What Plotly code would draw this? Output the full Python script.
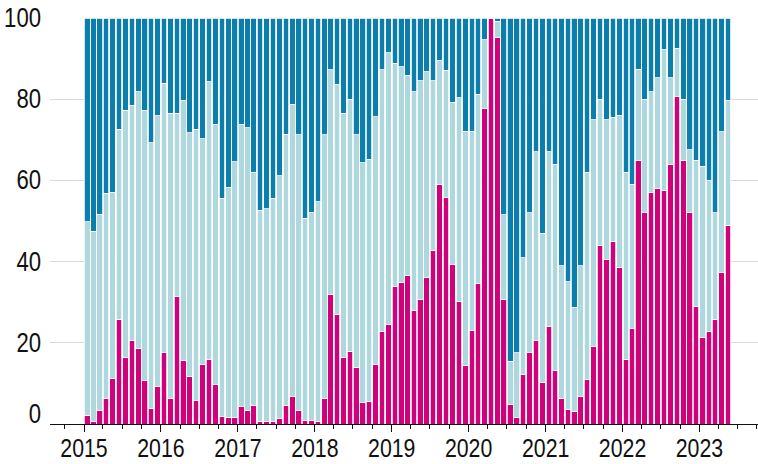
import pandas as pd
import plotly.graph_objects as go

# Monthly shares (percent), Jan 2015 - May 2023
months = pd.date_range("2015-01-01", periods=101, freq="MS")

bottom_share = [
    2.1, 0.7, 3.4, 6.2, 11.1, 25.7, 16.5, 20.6, 18.5, 10.7, 3.7, 9.3,
    17.5, 6.3, 31.3, 15.7, 11.7, 5.8, 14.6, 16.0, 9.7, 1.9, 1.6, 1.6,
    4.4, 3.4, 4.6, 0.7, 0.7, 0.7, 1.4, 4.6, 6.7, 3.4, 0.9, 0.9,
    0.7, 6.4, 32.0, 27.0, 16.3, 17.9, 13.8, 5.2, 5.5, 14.6, 22.8, 24.6,
    33.8, 34.8, 36.5, 27.9, 30.6, 36.2, 42.8, 59.1, 55.9, 39.2, 30.1, 14.4,
    23.0, 34.5, 77.7, 100.0, 95.3, 30.6, 4.9, 1.7, 12.1, 17.6, 20.5, 10.1,
    24.0, 13.1, 6.2, 3.5, 3.1, 6.7, 10.9, 19.0, 44.0, 40.5, 45.0, 38.5,
    15.8, 23.6, 65.0, 52.0, 57.0, 58.0, 57.6, 64.0, 80.6, 65.0, 52.0, 28.9,
    21.3, 22.8, 25.8, 37.4, 48.8,
]

# Cumulative share of the bottom and middle groups
middle_top = [
    49.8, 47.5, 51.7, 56.8, 57.1, 72.6, 77.3, 78.5, 81.8, 77.3, 69.3, 75.9,
    83.9, 76.5, 76.5, 79.8, 71.7, 72.6, 70.2, 84.3, 73.8, 55.6, 58.3, 64.6,
    73.8, 73.0, 62.0, 52.7, 53.0, 55.6, 61.1, 71.4, 78.8, 71.2, 50.7, 52.2,
    54.8, 71.2, 87.3, 83.7, 76.5, 80.0, 71.2, 64.4, 65.2, 75.7, 87.2, 91.4,
    88.8, 88.0, 85.9, 81.8, 84.5, 86.8, 84.5, 89.6, 87.1, 79.2, 80.3, 72.1,
    72.1, 81.2, 94.7, 100.0, 99.2, 51.5, 15.4, 17.5, 41.0, 52.0, 67.0, 47.0,
    67.0, 64.0, 39.0, 35.0, 28.8, 39.0, 62.0, 75.0, 80.0, 75.0, 75.5, 76.0,
    62.0, 59.0, 87.4, 80.0, 81.8, 85.3, 92.2, 85.3, 92.5, 80.0, 67.5, 65.0,
    63.5, 60.0, 52.0, 72.0, 79.8,
]

middle_share = [t - b for t, b in zip(middle_top, bottom_share)]
top_share = [100 - t for t in middle_top]

y_ticks = [0, 20, 40, 60, 80, 100]

MAGENTA = "#d1007b"
LIGHT = "#aed8de"
DARK = "#0a7fad"
INK = "#111111"
FONT = "Liberation Sans Narrow, Arial Narrow, Liberation Sans, Arial, sans-serif"
LABEL_SIZE = 26

# Bars centred on mid-month so each one fills its own month slot
next_month = months + pd.offsets.MonthBegin(1)
centers = months + (next_month - months) / 2
bar_width = 26.5 * 24 * 3600 * 1000  # ms

fig = go.Figure()
for vals, color in [(bottom_share, MAGENTA), (middle_share, LIGHT), (top_share, DARK)]:
    fig.add_trace(go.Bar(
        x=centers, y=vals, width=bar_width,
        marker=dict(color=color, line=dict(color="white", width=0.8)),
        hoverinfo="skip",
    ))

fig.update_layout(
    barmode="stack",
    width=758, height=464,
    margin=dict(l=50, r=0, t=18, b=40),
    paper_bgcolor="white", plot_bgcolor="white",
    showlegend=False,
    font=dict(family=FONT, size=LABEL_SIZE, color=INK),
)

fig.update_xaxes(
    type="date", automargin=False,
    range=["2014-07-23 12:00", "2023-10-06"],
    tick0="2015-01-01", dtick="M12", tickformat="%Y",
    ticks="outside", ticklen=7, tickwidth=1, tickcolor=INK,
    ticklabelstandoff=-6,
    minor=dict(dtick="M3", tick0="2015-01-01", ticks="outside", ticklen=4,
               tickwidth=1, tickcolor=INK, showgrid=False),
    showline=True, linecolor=INK, linewidth=1,
    showgrid=False, zeroline=False,
    tickfont=dict(family=FONT, size=LABEL_SIZE, color=INK),
)

fig.update_yaxes(
    range=[0, 100], tickvals=y_ticks, showticklabels=False, automargin=False,
    showgrid=True, gridcolor="#d9d9d9", gridwidth=1,
    zeroline=False, showline=False, ticks="",
)

for v in y_ticks:
    fig.add_annotation(
        x=0, xref="paper", y=v, yref="y",
        text=str(v), showarrow=False,
        xanchor="right", yanchor="middle",
        xshift=-7, yshift=10 if v == 0 else 0,
        font=dict(family=FONT, size=27, color=INK),
    )

# Condense the label glyphs horizontally (narrow typeface look)
condense_js = """
(function(){
  var gd = document.getElementById('{plot_id}');
  var S = 0.82;
  function condense(){
    var nodes = gd.querySelectorAll('.xtick text, text.annotation-text');
    nodes.forEach(function(t){
      var cur = t.getAttribute('transform') || '';
      if (t.__condensed === cur) return;
      var bb = t.getBBox();
      var ax;
      if (t.classList.contains('annotation-text')) {
        ax = bb.x + bb.width;
      } else {
        ax = bb.x + bb.width / 2;
      }
      var tr = (cur ? cur + ' ' : '') + 'translate(' + ax + ',0) scale(' + S + ',1) translate(' + (-ax) + ',0)';
      t.setAttribute('transform', tr);
      t.__condensed = tr;
    });
  }
  condense();
  if (gd.on) gd.on('plotly_afterplot', condense);
})();
"""

fig.write_html("out.html", post_script=condense_js)
